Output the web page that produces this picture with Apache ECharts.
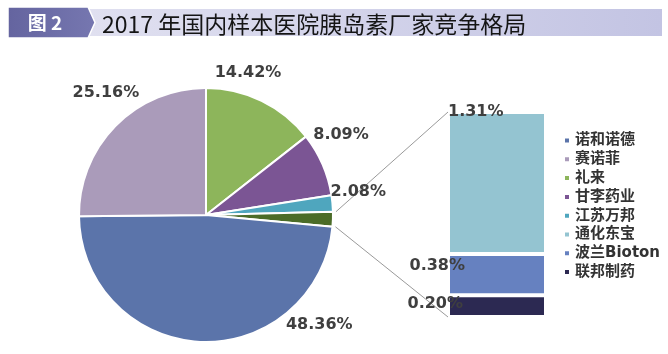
<!DOCTYPE html>
<html><head><meta charset="utf-8">
<script src="https://cdn.jsdelivr.net/npm/echarts@6/dist/echarts.min.js"></script>
<style>html,body{margin:0;padding:0;background:#fff}#c{width:668px;height:354px}</style>
</head><body><div id="c"></div>
<script>
// ---- data ----
const pieNames = ['礼来', '甘李药业', '江苏万邦', '其他', '诺和诺德', '赛诺菲'];
const pieValues = [14.42, 8.09, 2.08, 1.89, 48.36, 25.16];
const barNames = ['联邦制药', '波兰Bioton', '通化东宝'];
const barValues = [0.20, 0.38, 1.31];
const legendNames = ['诺和诺德', '赛诺菲', '礼来', '甘李药业', '江苏万邦', '通化东宝', '波兰Bioton', '联邦制药'];
const figText = '图 2';
const titleText = '2017 年国内样本医院胰岛素厂家竞争格局';

// ---- style ----
const colors = {
  '诺和诺德': '#5b74aa', '赛诺菲': '#aa9bba', '礼来': '#8db55b', '甘李药业': '#7b5594',
  '江苏万邦': '#4fa6be', '其他': '#4b6c28', '通化东宝': '#94c4d1', '波兰Bioton': '#6681c0', '联邦制药': '#2c2952'
};
const PIE_C = [206, 215], PIE_R = 127;
const pieLabelPolar = { '礼来': [73.5, 148], '赛诺菲': [129.3, 158], '甘李药业': [30.7, 157], '江苏万邦': [8.6, 154], '诺和诺德': [-44.2, 158] };
const barLabelPos = { '通化东宝': { position: [0, 0], align: 'left' }, '波兰Bioton': { position: [17, 12], align: 'right' }, '联邦制药': { position: [15, 9], align: 'right' } };
const GRID = { left: 448, top: 112, width: 98, height: 205 };
const labelFont = { fontFamily: 'DejaVu Sans', fontWeight: 'bold', fontSize: 16, color: '#3f3f3f' };
const total = pieValues.reduce((a, b) => a + b, 0);
const barTotal = barValues.reduce((a, b) => a + b, 0);

const chart = echarts.init(document.getElementById('c'), null, { renderer: 'canvas' });

const pieData = pieNames.map((n, i) => ({
  name: n, value: pieValues[i],
  itemStyle: { color: colors[n] },
  label: { show: n !== '其他' }
}));

const barSeries = barNames.map((n, i) => ({
  name: n, type: 'bar', stack: 'other', barWidth: '100%',
  data: [barValues[i]],
  itemStyle: { color: colors[n], borderColor: '#fff', borderWidth: 2 },
  label: Object.assign({ show: true, verticalAlign: 'middle', formatter: p => p.value.toFixed(2) + '%' }, labelFont, barLabelPos[n])
}));

const titleGraphics = [
  { id: 'band', type: 'rect', shape: { x: 88, y: 9, width: 574, height: 27 }, style: { fill: new echarts.graphic.LinearGradient(0, 0, 1, 0, [{ offset: 0, color: '#e0e0f0' }, { offset: 1, color: '#c3c4e3' }]) } },
  { id: 'box', type: 'polygon', shape: { points: [[8, 7], [88, 7], [95, 22.5], [88, 38], [8, 38]] }, style: { fill: new echarts.graphic.LinearGradient(0, 0, 1, 0, [{ offset: 0, color: '#64649f' }, { offset: 1, color: '#7677b0' }]), stroke: '#fff', lineWidth: 1.5 } },
  { id: 'fig', type: 'text', x: 45, y: 23, style: { text: figText, fill: '#fff', font: 'bold 19px "Noto Sans CJK SC"', align: 'center', verticalAlign: 'middle' } },
  { id: 'title', type: 'text', x: 102, y: 24, style: { text: titleText, fill: '#151515', font: '23px "Noto Sans CJK SC"', align: 'left', verticalAlign: 'middle' } }
];

chart.setOption({
  animation: false,
  backgroundColor: '#fff',
  graphic: { elements: titleGraphics },
  legend: {
    data: legendNames, orient: 'vertical', left: 563, top: 133, padding: 0,
    icon: 'rect', itemWidth: 6, itemHeight: 6, itemGap: 3.8,
    textStyle: { fontFamily: 'DejaVu Sans, "Noto Sans CJK SC"', fontSize: 15, fontWeight: 'bold', color: '#333', lineHeight: 15 }
  },
  grid: { left: GRID.left, top: GRID.top, width: GRID.width, height: GRID.height },
  xAxis: { type: 'category', data: ['其他'], show: false },
  yAxis: { type: 'value', min: 0, max: barTotal, show: false },
  series: [
    {
      type: 'pie', center: PIE_C, radius: [0, PIE_R], startAngle: 90, clockwise: true,
      data: pieData,
      itemStyle: { borderColor: '#fff', borderWidth: 2 },
      label: Object.assign({ position: 'outside', overflow: 'none', formatter: p => p.value.toFixed(2) + '%' }, labelFont),
      labelLine: { show: false },
      labelLayout: function (p) {
        const pl = pieLabelPolar[pieNames[p.dataIndex]];
        if (!pl) return {};
        const a = pl[0] * Math.PI / 180;
        return { x: PIE_C[0] + pl[1] * Math.cos(a), y: PIE_C[1] - pl[1] * Math.sin(a), align: 'center', verticalAlign: 'middle' };
      },
      emphasis: { disabled: true }
    }
  ].concat(barSeries)
});

// connector lines from the "其他" slice to the stacked bar
const idx = pieNames.indexOf('其他');
const before = pieValues.slice(0, idx).reduce((a, b) => a + b, 0);
const a1 = (90 - before / total * 360) * Math.PI / 180;
const a2 = (90 - (before + pieValues[idx]) / total * 360) * Math.PI / 180;
const p1 = [PIE_C[0] + PIE_R * Math.cos(a1), PIE_C[1] - PIE_R * Math.sin(a1)];
const p2 = [PIE_C[0] + PIE_R * Math.cos(a2), PIE_C[1] - PIE_R * Math.sin(a2)];
const yTop = chart.convertToPixel({ yAxisIndex: 0 }, barTotal);
const yBot = chart.convertToPixel({ yAxisIndex: 0 }, 0);
chart.setOption({
  graphic: { elements: titleGraphics.concat([
    { id: 'l1', type: 'line', shape: { x1: p1[0] + 3, y1: p1[1], x2: GRID.left, y2: yTop }, style: { stroke: '#9a9a9a', lineWidth: 1 }, z: 1 },
    { id: 'l2', type: 'line', shape: { x1: p2[0] + 3, y1: p2[1], x2: GRID.left, y2: yBot }, style: { stroke: '#9a9a9a', lineWidth: 1 }, z: 1 }
  ]) }
});
</script>
</body></html>
